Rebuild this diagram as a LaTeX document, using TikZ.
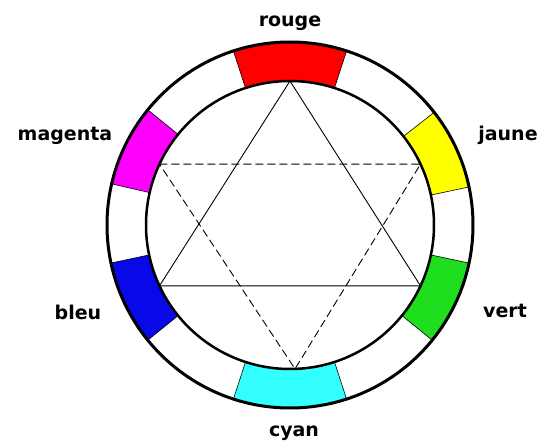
\documentclass[tikz,border=0pt]{standalone}
\usepackage{fontspec}
\setmainfont{DejaVu Sans}
\usetikzlibrary{%
	calc,%
}
\definecolor{crouge}{RGB}{255, 0, 0}
\definecolor{cjaune}{RGB}{255, 255, 0}
\definecolor{cvert}{RGB}{30, 222, 30}
\definecolor{ccyan}{RGB}{51, 255, 255}
\definecolor{cbleu}{RGB}{8, 8, 232}
\definecolor{cmagenta}{RGB}{255, 0, 255}
\tikzset{
	ringline/.style={%
			draw=black,%
			line width=3pt},%
	colorpart/.style={%
			draw=black,%
			line width=0.6pt},%
	solidside/.style={%
			line width=0.9pt},%
	dashside/.style={%
			line width=0.9pt,%
			dash pattern=on 8pt off 4pt},%
	colorname/.style={%
			font={\bfseries\fontsize{19}{22}\selectfont},%
			inner sep=0pt,%
			anchor=base},%
}
% annular part of the ring: colour, start angle, end angle
\newcommand{\ringpart}[3]{%
	\filldraw[colorpart, fill=#1] ($(C)+(#2:144)$) arc[start angle=#2, end angle=#3, radius=144]
	-- ($(C)+(#3:183)$) arc[start angle=#3, end angle=#2, radius=183] -- cycle;}

\begin{document}
\begin{tikzpicture}[x=1pt, y=1pt]
	\useasboundingbox (0,0) rectangle (547,445);
	\coordinate (C) at (290,220);

	\ringpart{crouge}{72}{108}
	\ringpart{cmagenta}{141}{167}
	\ringpart{cbleu}{192}{219}
	\ringpart{ccyan}{252}{288}
	\ringpart{cvert}{321}{348}
	\ringpart{cjaune}{12}{38}

	\draw[ringline] (C) circle[radius=183];
	\draw[ringline, line width=2.5pt] (C) circle[radius=144];

	\coordinate (t1) at ($(C)+(90:144)$);
	\coordinate (t2) at ($(C)+(205:144)$);
	\coordinate (t3) at ($(C)+(335:144)$);
	\coordinate (d1) at ($(C)+(155:144)$);
	\coordinate (d2) at ($(C)+(25:144)$);
	\coordinate (d3) at ($(C)+(272:144)$);

	\draw[solidside] (t1) -- (t2) -- (t3) -- cycle;
	\draw[dashside] (d1) -- (d2) -- (d3) -- cycle;

	\node[colorname] (rouge) at (290,418) {rouge};
	\node[colorname] (magenta) at (65,304) {magenta};
	\node[colorname] (jaune) at (508,304) {jaune};
	\node[colorname] (bleu) at (78,125) {bleu};
	\node[colorname] (vert) at (505,127) {vert};
	\node[colorname] (cyan) at (294,9) {cyan};
\end{tikzpicture}
\end{document}
